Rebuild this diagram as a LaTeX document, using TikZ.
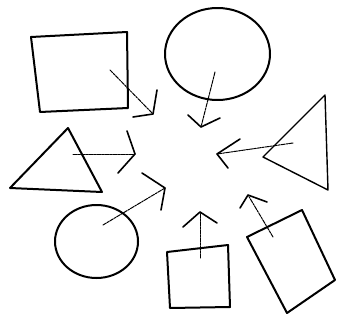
\documentclass[tikz,border=0pt]{standalone}
\usetikzlibrary{calc}
\begin{document}
\begin{tikzpicture}[x=1pt,y=-1pt,
  shapeline/.style={line width=2pt,line join=round,line cap=round},
  shaft/.style={line width=1pt,line cap=round,dash pattern=on 4pt off 1pt on 2pt off 1pt},
  barb/.style={line width=1.6pt,line cap=round,line join=round}]
\useasboundingbox (0,0) rectangle (337,321);
% shapes
\coordinate (r1) at (31,37); \coordinate (r2) at (127,32);
\coordinate (r3) at (128,108); \coordinate (r4) at (40,112);
\draw[shapeline] (r1) -- (r2) -- (r3) -- (r4) -- cycle;
\draw[shapeline] (217.5,54) ellipse [x radius=52.5, y radius=46];
\coordinate (lt1) at (68,128); \coordinate (lt2) at (10,188); \coordinate (lt3) at (102,192);
\draw[shapeline] (lt1) -- (lt2) -- (lt3) -- cycle;
\coordinate (rt1) at (325,95); \coordinate (rt2) at (263,157); \coordinate (rt3) at (328,190);
\draw[shapeline,line width=1.4pt] (rt1) -- (rt2) -- (rt3) -- cycle;
\draw[shapeline] (96.5,241.5) ellipse [x radius=41.5, y radius=36.5];
\coordinate (s1) at (167,252); \coordinate (s2) at (228,245);
\coordinate (s3) at (230,307); \coordinate (s4) at (170,308);
\draw[shapeline] (s1) -- (s2) -- (s3) -- (s4) -- cycle;
\coordinate (q1) at (247,237); \coordinate (q2) at (302,210);
\coordinate (q3) at (335,280); \coordinate (q4) at (287,313);
\draw[shapeline] (q1) -- (q2) -- (q3) -- (q4) -- cycle;
% arrows: start, tip, barbs
\coordinate (a1s) at (110,70);  \coordinate (a1t) at (153,114); \coordinate (a1b) at (157,90);  \coordinate (a1c) at (133,117);
\coordinate (a2s) at (215,72);  \coordinate (a2t) at (201,127); \coordinate (a2b) at (188,115); \coordinate (a2c) at (220,118);
\coordinate (a3s) at (293,143); \coordinate (a3t) at (217,154); \coordinate (a3b) at (240,139); \coordinate (a3c) at (228,168);
\coordinate (a4s) at (73,154);  \coordinate (a4t) at (135,154); \coordinate (a4b) at (127,131); \coordinate (a4c) at (118,173);
\coordinate (a5s) at (103,225); \coordinate (a5t) at (165,188); \coordinate (a5b) at (142,173); \coordinate (a5c) at (161,210);
\coordinate (a6s) at (200,258); \coordinate (a6t) at (200,212); \coordinate (a6b) at (183,227); \coordinate (a6c) at (217,223);
\coordinate (a7s) at (273,237); \coordinate (a7t) at (248,195); \coordinate (a7b) at (240,208); \coordinate (a7c) at (267,202);
\foreach \i in {1,...,7} {
  \draw[shaft] (a\i s) -- (a\i t);
  \draw[barb] (a\i b) -- (a\i t) -- (a\i c);
}
\end{tikzpicture}
\end{document}
